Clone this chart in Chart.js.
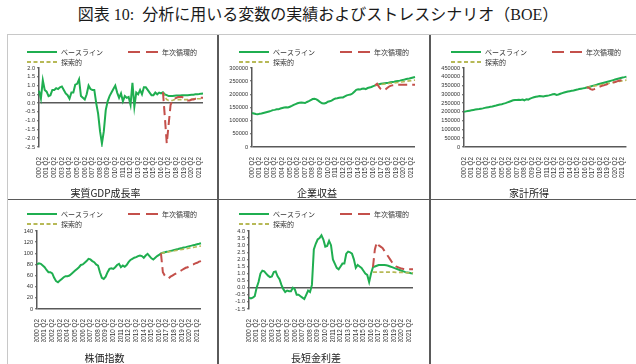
<!DOCTYPE html>
<html>
<head>
<meta charset="utf-8">
<script src="https://cdn.jsdelivr.net/npm/chart.js"></script>
<style>
body { margin:0; background:#fff; width:636px; height:364px; overflow:hidden; position:relative; }
#title { position:absolute; left:0; top:4px; width:636px; text-align:center; font-size:16px; line-height:22px;
  font-family:"Liberation Serif","Noto Sans CJK JP",serif; color:#1a1a1a; white-space:pre; }
.line { position:absolute; background:#5a5a5a; }
canvas { position:absolute; }
</style>
</head>
<body>
<div id="title">図表 10:  分析に用いる変数の実績およびストレスシナリオ（BOE）</div>
<div class="line" style="left:7px;top:34px;width:629px;height:1px;background:#c8c8c8"></div>
<div class="line" style="left:7px;top:34px;width:1px;height:330px;background:#c8c8c8"></div>
<div class="line" style="left:217px;top:35px;width:2px;height:329px"></div>
<div class="line" style="left:429px;top:35px;width:2px;height:329px"></div>
<div class="line" style="left:8px;top:199px;width:628px;height:1px"></div>

<canvas id="gdp" width="209" height="164" style="left:8px;top:35px"></canvas>
<canvas id="profit" width="210" height="164" style="left:219px;top:35px"></canvas>
<canvas id="income" width="205" height="164" style="left:431px;top:35px"></canvas>
<canvas id="stock" width="209" height="164" style="left:8px;top:200px"></canvas>
<canvas id="spread" width="210" height="164" style="left:219px;top:200px"></canvas>

<script>
// 2000 Q2 .. 2021 Q4, quarterly
var quarters = [];
for (var yr = 2000; yr <= 2021; yr++) {
    ['Q1', 'Q2', 'Q3', 'Q4'].forEach(function(q) { quarters.push(yr + ' ' + q); });
}
quarters = quarters.slice(1);
var scenarioStart = 65; // 2016 Q3

var seriesNames = ['ベースライン', '年次循環的', '探索的'];

// 実質GDP成長率
var gdpBase = [0.7, 0.25, 1.3, 0.75, 0.65, 0.4, 0.45, 0.75, 0.75, 0.85,
    0.8, 0.9, 0.95, 0.75, 0.55, 0.45, 0.25, 0.6, 0.6, 1.05,
    1.1, 1.35, 0.4, 0.3, 0.2, 0.5, 1.0, 0.8, 0.75, 0.75,
    0.0, -0.6, -1.6, -2.3, -1.6, -0.4, 0.1, 0.4, 0.6, 0.8,
    1.0, 0.6, 0.3, 0.55, 0.1, 0.4, 0.3, 0.35, -0.1, 1.15,
    -0.2, 0.6, 0.5, 0.75, 0.5, 0.9, 0.9, 0.75, 0.6, 0.45,
    0.45, 0.6, 0.5, 0.6, 0.55,
    0.62, 0.5, 0.45, 0.4, 0.4, 0.4, 0.42, 0.43, 0.44, 0.44, 0.45, 0.45, 0.45, 0.45, 0.46, 0.47, 0.48, 0.5, 0.51, 0.52, 0.54, 0.55];
var gdpAcs = [0.62, -0.8, -2.3, -1.2, -0.1, 0.15, 0.25, 0.3, 0.35, 0.35, 0.35, 0.3, 0.2, 0.15, 0.15, 0.2, 0.2, 0.25, 0.25, 0.3, 0.3, 0.3];
var gdpExp = [0.62, 0.35, 0.2, 0.15, 0.15, 0.15, 0.2, 0.2, 0.2, 0.2, 0.2, 0.2, 0.2, 0.2, 0.2, 0.2, 0.25, 0.25, 0.25, 0.25, 0.25, 0.25];

// 企業収益
var profitBase = [129000, 127000, 125000, 124000, 126000, 127000, 129000, 131000, 133000, 135000,
    137000, 140000, 141000, 143000, 143000, 146000, 148000, 150000, 151000, 150000,
    153000, 156000, 160000, 163000, 166000, 168000, 169000, 168000, 167000, 171000,
    174000, 178000, 182000, 183000, 181000, 176000, 170000, 166000, 165000, 167000,
    172000, 174000, 176000, 181000, 184000, 185000, 187000, 188000, 188000, 192000,
    196000, 198000, 199000, 203000, 210000, 217000, 219000, 218000, 221000, 222000,
    220000, 224000, 226000, 228000, 231000,
    234000, 236000, 238000, 240000, 241000, 242000, 243000, 244000, 246000, 247000, 248000,
    250000, 251000, 252000, 254000, 255000, 257000, 259000, 260000, 262000, 264000, 266000];
var profitAcs = [234000, 240000, 228000, 220000, 217000, 216000, 222000, 228000, 232000, 234000, 235000,
    235000, 236000, 236000, 236000, 236000, 236000, 236000, 236000, 236000, 236000, 236000];
var profitExp = [234000, 235000, 236000, 237000, 238000, 239000, 240000, 241000, 242000, 242000, 243000,
    244000, 245000, 246000, 247000, 248000, 249000, 250000, 251000, 252000, 253000, 254000];

// 家計所得
var incomeBase = [200000, 203000, 205000, 207000, 209000, 211000, 213000, 215000, 216000, 218000,
    220000, 223000, 225000, 227000, 229000, 231000, 234000, 236000, 239000, 242000,
    244000, 247000, 250000, 254000, 258000, 262000, 266000, 268000, 268000, 269000,
    268000, 270000, 266000, 272000, 270000, 276000, 280000, 283000, 286000, 288000,
    290000, 289000, 288000, 290000, 292000, 294000, 297000, 300000, 302000, 297000,
    299000, 303000, 307000, 310000, 313000, 316000, 318000, 320000, 322000, 325000,
    327000, 330000, 332000, 334000, 336000,
    339000, 342000, 345000, 348000, 351000, 354000, 357000, 360000, 363000, 366000, 369000,
    372000, 375000, 378000, 381000, 384000, 387000, 390000, 393000, 396000, 398000, 401000];
var incomeAcs = [339000, 338000, 330000, 326000, 330000, 336000, 340000, 344000, 348000, 351000, 355000,
    358000, 361000, 364000, 367000, 370000, 374000, 377000, 380000, 384000, 387000, 391000];
var incomeExp = [339000, 341000, 343000, 345000, 347000, 349000, 351000, 353000, 355000, 357000, 359000,
    361000, 363000, 365000, 367000, 369000, 371000, 373000, 375000, 377000, 379000, 381000];

// 株価指数
var stockBase = [80, 82, 81, 78, 75, 70, 66, 66, 64, 56,
    50, 48, 51, 54, 57, 59, 59, 60, 63, 66,
    69, 72, 75, 79, 80, 83, 86, 90, 89, 86,
    84, 80, 78, 66, 56, 54, 58, 66, 72, 73,
    72, 75, 79, 81, 75, 78, 76, 79, 84, 88,
    90, 92, 93, 95, 96, 95, 92, 96, 99, 95,
    91, 89, 92, 95, 97,
    100, 100.9, 101.7, 102.6, 103.4, 104.3, 105.1, 106, 106.9, 107.7, 108.6,
    109.4, 110.3, 111.1, 112, 112.9, 113.7, 114.6, 115.4, 116.3, 117.1, 118];
var stockAcs = [100, 66, 60, 56, 55, 58, 60, 62, 64, 66, 68, 70, 72, 74, 75, 77, 79, 80, 82, 83, 85, 86];
var stockExp = [100, 100.6, 101.2, 101.9, 102.5, 103.1, 103.7, 104.4, 105, 105.6, 106.2,
    106.9, 107.5, 108.1, 108.7, 109.4, 110, 110.6, 111.2, 111.9, 112.5, 113.1];

// 長短金利差
var spreadBase = [-0.7, -0.75, -0.7, -0.6, 0.0, 0.4, 1.0, 1.2, 1.15, 1.0,
    0.85, 0.75, 0.8, 1.1, 1.15, 0.8, 0.6, 0.2, -0.1, -0.3,
    -0.2, -0.25, -0.25, 0.0, -0.1, -0.5, -0.5, -0.6, -0.7, -0.8,
    -0.5, -0.2, -0.3, 0.2, 2.7, 3.1, 3.4, 3.5, 3.7, 3.4,
    2.9, 2.95, 3.3, 3.0, 2.0, 1.7, 1.4, 1.3, 1.5, 1.7,
    1.7, 2.4, 2.55, 2.5, 2.4, 2.0, 1.4, 1.6, 1.5, 1.4,
    1.2, 1.0, 0.9, 0.4, 1.0,
    1.45, 1.5, 1.55, 1.6, 1.6, 1.6, 1.6, 1.58, 1.55, 1.5, 1.45,
    1.4, 1.35, 1.3, 1.25, 1.2, 1.15, 1.1, 1.08, 1.05, 1.02, 1.0];
var spreadAcs = [1.45, 2.7, 3.2, 3.0, 2.9, 2.8, 2.6, 2.4, 2.2, 2.0, 1.8, 1.6, 1.5, 1.45, 1.4, 1.35, 1.32, 1.3, 1.3, 1.3, 1.3, 1.3];
var spreadExp = [1.1, 1.1, 1.1, 1.1, 1.1, 1.1, 1.1, 1.1, 1.1, 1.1, 1.1, 1.1, 1.08, 1.08, 1.08, 1.07, 1.07, 1.06, 1.06, 1.05, 1.05, 1.05];

var GREEN = '#1fae50', RED = '#c4504b', OLIVE = '#b7b957', AXIS = '#595959';
var JP = '"Noto Sans CJK JP", sans-serif';
var NUM = '"Liberation Sans", Arial, sans-serif';

function pad(arr) {
    return new Array(scenarioStart).fill(null).concat(arr);
}

function legendPlugin(l) {
    return {
        id: 'cellLegend',
        afterDraw: function(chart) {
            var ctx = chart.ctx;
            var items = [
                {ds: 0, x: l.x1, y: l.y1, dash: []},
                {ds: 1, x: l.x2, y: l.y1, dash: [12, 6]},
                {ds: 2, x: l.x1, y: l.y2, dash: [4, 2.5]}
            ];
            ctx.save();
            items.forEach(function(it) {
                var ds = chart.data.datasets[it.ds];
                ctx.beginPath();
                ctx.strokeStyle = ds.borderColor;
                ctx.lineWidth = 2;
                ctx.setLineDash(it.dash);
                ctx.moveTo(it.x, it.y);
                ctx.lineTo(it.x + 30, it.y);
                ctx.stroke();
                ctx.setLineDash([]);
                ctx.fillStyle = '#333';
                ctx.font = '7px ' + JP;
                ctx.textBaseline = 'middle';
                ctx.fillText(ds.label, it.x + 34, it.y + 0.5);
            });
            ctx.restore();
        }
    };
}

function makeChart(id, c) {
    var ctx = document.getElementById(id).getContext('2d');
    return new Chart(ctx, {
        type: 'line',
        data: {
            labels: quarters,
            datasets: [
                {label: seriesNames[0], data: c.base, borderColor: GREEN, borderWidth: 2, pointRadius: 0, order: 3},
                {label: seriesNames[1], data: pad(c.acs), borderColor: RED, borderWidth: 2, borderDash: [9, 5], pointRadius: 0, order: 1},
                {label: seriesNames[2], data: pad(c.exp), borderColor: OLIVE, borderWidth: 1.6, borderDash: [4, 2.5], pointRadius: 0, order: 2}
            ]
        },
        options: {
            responsive: false,
            animation: false,
            layout: {padding: {top: c.top, right: c.right, left: 0, bottom: 0}},
            plugins: {
                legend: {display: false},
                tooltip: {enabled: false},
                title: {
                    display: true, text: c.title, position: 'bottom', color: '#222',
                    font: {size: 10, family: JP, weight: 'normal'},
                    padding: {top: c.titlePad, bottom: 0}
                }
            },
            scales: {
                x: {
                    grid: {display: false},
                    border: {display: false},
                    ticks: {
                        autoSkip: false, minRotation: 90, maxRotation: 90, padding: 2,
                        color: '#333', font: {size: 6.3, family: NUM},
                        callback: function(v, i) { return i % 4 === 0 ? quarters[i] : ''; }
                    },
                    afterFit: function(s) { s.height = c.xh; }
                },
                y: {
                    min: c.min, max: c.max,
                    ticks: {
                        autoSkip: false,
                        stepSize: c.step, padding: 2, color: '#333', font: {size: 5.6, family: NUM},
                        callback: function(v) { return c.dec ? v.toFixed(c.dec) : String(v); }
                    },
                    grid: {
                        color: function(g) { return g.tick && g.tick.value === 0 ? AXIS : 'rgba(0,0,0,0)'; },
                        lineWidth: 1.5, drawTicks: true, tickLength: 2, tickColor: AXIS, tickWidth: 1
                    },
                    border: {color: AXIS, width: 1.5},
                    afterFit: function(s) { s.width = c.yw; }
                }
            }
        },
        plugins: [legendPlugin(c.legend)]
    });
}

var topLegend = {x1: 19, x2: 120, y1: 17, y2: 27};
var botLegend = {x1: 19, x2: 120, y1: 14, y2: 24};

makeChart('gdp', {base: gdpBase, acs: gdpAcs, exp: gdpExp, title: '実質GDP成長率',
    min: -2.5, max: 2.0, step: 0.5, dec: 1, yw: 31, right: 14, top: 33, xh: 31, titlePad: 9, legend: topLegend});
makeChart('profit', {base: profitBase, acs: profitAcs, exp: profitExp, title: '企業収益',
    min: 0, max: 300000, step: 50000, dec: 0, yw: 33, right: 14, top: 33, xh: 31, titlePad: 9,
    legend: {x1: 20, x2: 121, y1: 17, y2: 27}});
makeChart('income', {base: incomeBase, acs: incomeAcs, exp: incomeExp, title: '家計所得',
    min: 0, max: 450000, step: 50000, dec: 0, yw: 33, right: 9, top: 33, xh: 31, titlePad: 9,
    legend: {x1: 20, x2: 121, y1: 17, y2: 27}});
makeChart('stock', {base: stockBase, acs: stockAcs, exp: stockExp, title: '株価指数',
    min: 0, max: 140, step: 20, dec: 0, yw: 29, right: 16, top: 31, xh: 33, titlePad: 10, legend: botLegend});
makeChart('spread', {base: spreadBase, acs: spreadAcs, exp: spreadExp, title: '長短金利差',
    min: -1.5, max: 4.0, step: 0.5, dec: 1, yw: 30, right: 16, top: 31, xh: 33, titlePad: 10,
    legend: {x1: 20, x2: 121, y1: 14, y2: 24}});
</script>
</body>
</html>
